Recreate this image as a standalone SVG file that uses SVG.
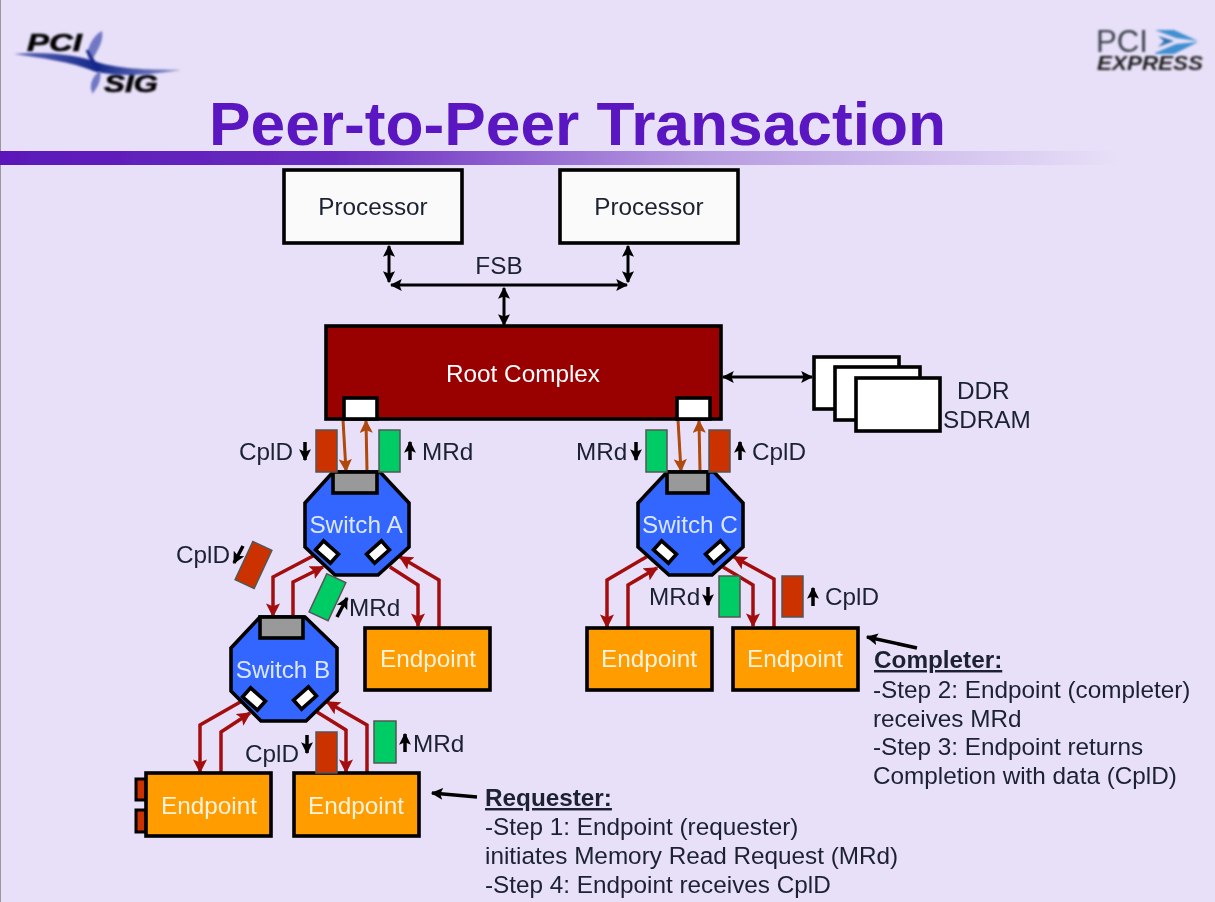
<svg xmlns="http://www.w3.org/2000/svg" width="1215" height="902" viewBox="0 0 1215 902">
<style>
text{font-family:"Liberation Sans",Arial,sans-serif;font-size:24.3px;fill:#1a2030}
.w{fill:#fff}.ow{fill:#fff3dc}.sw{fill:#dbe6ff}
.c{text-anchor:middle}
.box{stroke:#000;stroke-width:3.6}
.proc{fill:#fafafa}.ep{fill:#ff9c00}.sw-b{fill:#3366ff}
.gray{fill:#999;stroke:#000;stroke-width:3.6}
.port{fill:#fff;stroke:#000;stroke-width:3.6}
.r{fill:#cc3300;stroke:#555;stroke-width:1.5}
.g{fill:#00cc66;stroke:#555;stroke-width:1.5}
.bus{fill:none;stroke:#000;stroke-width:3;marker-start:url(#mk);marker-end:url(#mk)}
.rd{fill:none;stroke:#a40a0a;stroke-width:3.5;marker-end:url(#mr)}
.or{fill:none;stroke:#b0480e;stroke-width:3;marker-end:url(#mo)}
.tip{fill:none;stroke:#000;stroke-width:3.5;marker-end:url(#mb)}
</style>
<defs>
<linearGradient id="band" x1="0" x2="1" y1="0" y2="0">
<stop offset="0" stop-color="#5a18b8"/><stop offset=".3" stop-color="#6a2cc0"/><stop offset=".62" stop-color="#b69ae0"/><stop offset="1" stop-color="#e8e0f8"/>
</linearGradient>
<linearGradient id="sw1" x1="0" x2="1" y1="0" y2="0">
<stop offset="0" stop-color="#6068b8"/><stop offset=".5" stop-color="#14288a"/><stop offset="1" stop-color="#9094d0"/>
</linearGradient>
<filter id="soft" x="-5%" y="-5%" width="110%" height="110%"><feGaussianBlur stdDeviation=".55"/></filter>
<filter id="soft2" x="-10%" y="-10%" width="120%" height="120%"><feGaussianBlur stdDeviation=".8"/></filter>
<marker id="mr" viewBox="0 0 10 10" refX="9" refY="5" markerWidth="4" markerHeight="4" orient="auto"><path d="M0 0L10 5L0 10L2 5Z" fill="#a40a0a"/></marker>
<marker id="mo" viewBox="0 0 10 10" refX="9" refY="5" markerWidth="4.4" markerHeight="4.4" orient="auto"><path d="M0 0L10 5L0 10L2 5Z" fill="#b0480e"/></marker>
<marker id="mb" viewBox="0 0 10 10" refX="9" refY="5" markerWidth="3.4" markerHeight="3.4" orient="auto"><path d="M0 0L10 5L0 10L2 5Z" fill="#000"/></marker>
<marker id="mk" viewBox="0 0 10 10" refX="9" refY="5" markerWidth="4" markerHeight="4" orient="auto-start-reverse"><path d="M0 0L10 5L0 10L2 5Z" fill="#000"/></marker>
</defs>
<rect width="1215" height="902" fill="#e8e0f8"/>
<rect width="1" height="902" fill="#999"/>
<g filter="url(#soft)">
<rect id="title-band" x="0" y="151" width="1120" height="14" fill="url(#band)"/>
<text id="title" x="209" y="145" textLength="737" lengthAdjust="spacingAndGlyphs" style="font-size:62px;font-weight:bold;fill:#5a14c0">Peer-to-Peer Transaction</text>

<g id="logo-pcisig" filter="url(#soft2)">
<path d="M14 54C50 51 80 56 100 63C130 71 160 69 181 70C150 75 125 77 96 72C70 61 40 58 14 54Z" fill="url(#sw1)"/>
<path d="M88 58C86 50 92 36 102 31C104 40 98 50 92 60Z" fill="#7078c4"/>
<path d="M92 92C89 86 92 76 100 71C102 78 98 88 92 94Z" fill="#7078c4"/>
<path d="M87 50L99 71L92 60Z" fill="#14288a" stroke="#14288a" stroke-width="3"/>
<text x="27" y="51" textLength="55" lengthAdjust="spacingAndGlyphs" style="font-size:24px;font-weight:bold;font-style:italic;fill:#000;stroke:#000;stroke-width:.6">PCI</text>
<text x="104" y="92" textLength="54" lengthAdjust="spacingAndGlyphs" style="font-size:24px;font-weight:bold;font-style:italic;fill:#000;stroke:#000;stroke-width:.6">SIG</text>
</g>
<g id="logo-pciexpress" filter="url(#soft2)">
<text x="1096" y="52" textLength="52" lengthAdjust="spacingAndGlyphs" style="font-size:32px;fill:#3c424d">PCI</text>
<path d="M1155 30L1174 30L1198 41L1176 38Z" fill="#3f8fd0"/>
<path d="M1155 53L1176 44L1198 42L1174 54L1155 54Z" fill="#3f8fd0"/>
<path d="M1158 36L1174 41L1158 47L1164 41Z" fill="#2a6fb0"/>
<text x="1097" y="70" textLength="106" lengthAdjust="spacingAndGlyphs" style="font-size:20px;font-weight:bold;font-style:italic;fill:#222">EXPRESS</text>
</g>

<g id="connectors">
<path class="bus" d="M389 246V282"/><path class="bus" d="M628 246V282"/><path class="bus" d="M391 285H627"/><path class="bus" d="M504 288V325"/>
<path class="bus" d="M723 377H812"/>
<path class="or" d="M343 420L346 471"/><path class="or" d="M367 471L366 421"/>
<path class="or" d="M678 420L681 471"/><path class="or" d="M700 471L699 421"/>
<path class="rd" d="M313 556L273 577V616"/><path class="rd" d="M293 617V582L323 567"/>
<path class="rd" d="M390 567L418 585V626"/><path class="rd" d="M439 627V580L400 557"/>
<path class="rd" d="M648 556L607 580V627"/><path class="rd" d="M628 627V585L657 568"/>
<path class="rd" d="M723 567L753 585V626"/><path class="rd" d="M774 627V579L734 557"/>
<path class="rd" d="M242 701L200 725V772"/><path class="rd" d="M221 773V732L250 713"/>
<path class="rd" d="M317 712L346 730V772"/><path class="rd" d="M367 773V725L327 702"/>
<path class="tip" d="M477 797L432 793"/><path class="tip" d="M917 648L867 637"/>
<path class="tip" d="M305 442V460"/><path class="tip" d="M410 460V442"/>
<path class="tip" d="M243 546L234 563"/><path class="tip" d="M337 617L347 598"/>
<path class="tip" d="M636 442V460"/><path class="tip" d="M740 460V442"/>
<path class="tip" d="M708 587V605"/><path class="tip" d="M813 606V588"/>
<path class="tip" d="M307 735V753"/><path class="tip" d="M405 752V734"/>
</g>

<g id="processor-1"><rect class="box proc" x="284" y="170" width="178" height="73"/><text class="c" x="373" y="215">Processor</text></g>
<g id="processor-2"><rect class="box proc" x="560" y="170" width="178" height="73"/><text class="c" x="649" y="215">Processor</text></g>
<text id="label-fsb" class="c" x="499" y="274">FSB</text>

<g id="root-complex">
<rect class="box" x="326" y="326" width="395" height="93" fill="#990000"/>
<text class="c w" x="523" y="382">Root Complex</text>
<rect class="port" x="344" y="398" width="33" height="21"/>
<rect class="port" x="677" y="398" width="33" height="21"/>
</g>

<g id="ddr-sdram">
<rect class="port" x="814" y="357" width="85" height="52"/>
<rect class="port" x="835" y="367" width="85" height="53"/>
<rect class="port" x="856" y="378" width="84" height="53"/>
<text x="957" y="399">DDR</text><text x="943" y="428">SDRAM</text>
</g>

<g id="switch-a">
<path class="box sw-b" d="M333 472H380L409 503V547L378 575H335L305 547V503Z"/>
<rect class="gray" x="333" y="472" width="44" height="21"/>
<rect class="port" x="317" y="546" width="20" height="12" transform="rotate(42 327 552)"/>
<rect class="port" x="368" y="546" width="20" height="12" transform="rotate(-42 378 552)"/>
<text class="c sw" x="356" y="533">Switch A</text>
</g>
<g id="switch-c">
<path class="box sw-b" d="M667 472H714L743 503V547L712 575H669L638 547V503Z"/>
<rect class="gray" x="667" y="472" width="41" height="21"/>
<rect class="port" x="655" y="546" width="20" height="12" transform="rotate(42 665 552)"/>
<rect class="port" x="707" y="546" width="20" height="12" transform="rotate(-42 717 552)"/>
<text class="c sw" x="690" y="533">Switch C</text>
</g>
<g id="switch-b">
<path class="box sw-b" d="M260 617H305L337 648V691L306 721H261L231 691V648Z"/>
<rect class="gray" x="260" y="617" width="43" height="21"/>
<rect class="port" x="244" y="693" width="20" height="12" transform="rotate(42 254 699)"/>
<rect class="port" x="295" y="692" width="20" height="12" transform="rotate(-42 305 698)"/>
<text class="c sw" x="283" y="678">Switch B</text>
</g>

<g id="endpoint-a"><rect class="box ep" x="365" y="628" width="125" height="62"/><text class="c ow" x="428" y="667">Endpoint</text></g>
<g id="endpoint-c1"><rect class="box ep" x="587" y="628" width="125" height="62"/><text class="c ow" x="649" y="667">Endpoint</text></g>
<g id="endpoint-c2"><rect class="box ep" x="733" y="628" width="125" height="62"/><text class="c ow" x="795" y="667">Endpoint</text></g>
<g id="endpoint-b1">
<rect x="136" y="779" width="10" height="21" fill="#cc3300" stroke="#000" stroke-width="3"/>
<rect x="136" y="810" width="10" height="22" fill="#cc3300" stroke="#000" stroke-width="3"/>
<rect class="box ep" x="146" y="773" width="125" height="63"/><text class="c ow" x="209" y="814">Endpoint</text></g>
<g id="endpoint-b2"><rect class="box ep" x="294" y="773" width="125" height="63"/><text class="c ow" x="356" y="814">Endpoint</text></g>

<g id="packets">
<rect class="r" x="316" y="430" width="21" height="42"/>
<rect class="g" x="379" y="430" width="21" height="42"/>
<rect class="g" x="646" y="430" width="21" height="42"/>
<rect class="r" x="709" y="430" width="21" height="42"/>
<rect class="r" x="243" y="544" width="21" height="42" transform="rotate(25 253.5 565)"/>
<rect class="g" x="317" y="576" width="21" height="42" transform="rotate(25 327 597)"/>
<rect class="g" x="719" y="576" width="21" height="41"/>
<rect class="r" x="782" y="576" width="21" height="41"/>
<rect class="r" x="316" y="732" width="21" height="41"/>
<rect class="g" x="374" y="721" width="22" height="42"/>
</g>

<g id="labels">
<text x="239" y="460">CplD</text><text x="422" y="460">MRd</text>
<text x="576" y="460">MRd</text><text x="752" y="460">CplD</text>
<text x="176" y="563">CplD</text><text x="349" y="616">MRd</text>
<text x="649" y="605">MRd</text><text x="825" y="605">CplD</text>
<text x="245" y="762">CplD</text><text x="413" y="752">MRd</text>
</g>
<g id="note-completer">
<text x="874" y="668" style="font-weight:bold;text-decoration:underline">Completer:</text>
<text x="873" y="698">-Step 2: Endpoint (completer)</text>
<text x="873" y="727">receives MRd</text>
<text x="873" y="755">-Step 3: Endpoint returns</text>
<text x="873" y="784">Completion with data (CplD)</text>
</g>
<g id="note-requester">
<text x="485" y="806" style="font-weight:bold;text-decoration:underline">Requester:</text>
<text x="485" y="835">-Step 1: Endpoint (requester)</text>
<text x="485" y="864">initiates Memory Read Request (MRd)</text>
<text x="485" y="893">-Step 4: Endpoint receives CplD</text>
</g>
</g>
</svg>
